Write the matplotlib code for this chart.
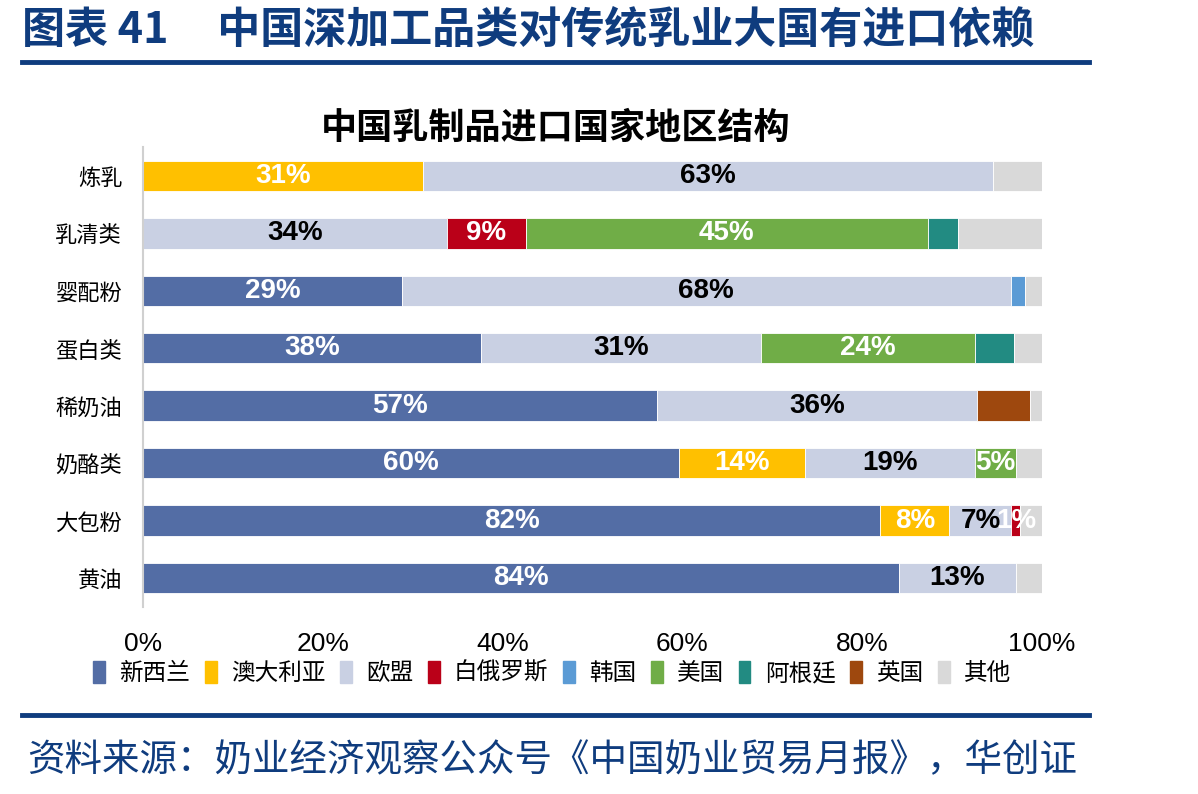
import numpy as np
import matplotlib
matplotlib.use("Agg")
from matplotlib import pyplot as plt
from matplotlib.lines import Line2D

plt.rcParams['font.family'] = ['Noto Sans CJK SC', 'DejaVu Sans']

categories = ['炼乳', '乳清类', '婴配粉', '蛋白类', '稀奶油', '奶酪类', '大包粉', '黄油']
countries = ['新西兰', '澳大利亚', '欧盟', '白俄罗斯', '韩国', '美国', '阿根廷', '英国', '其他']

nz = [0, 0, 28.8, 37.6, 57.2, 59.6, 82.0, 84.1]
au = [31.1, 0, 0, 0, 0, 14.0, 7.7, 0]
eu = [63.4, 33.8, 67.7, 31.1, 35.6, 18.9, 6.9, 13.0]
by = [0, 8.8, 0, 0, 0, 0, 1.0, 0]
kr = [0, 0, 1.6, 0, 0, 0, 0, 0]
us = [0, 44.7, 0, 23.8, 0, 4.6, 0, 0]
ar = [0, 3.4, 0, 4.4, 0, 0, 0, 0]
uk = [0, 0, 0, 0, 5.9, 0, 0, 0]
other = [5.5, 9.3, 1.9, 3.1, 1.3, 2.9, 2.4, 2.9]

series = [nz, au, eu, by, kr, us, ar, uk, other]
colors = ['#536DA5', '#FFC000', '#C9D0E3', '#BA0018', '#5B9BD5',
          '#70AD47', '#228B82', '#9E480E', '#D9D9D9']
# which series get value labels, and in which colour
label_color = {0: 'white', 1: 'white', 2: 'black', 3: 'white', 5: 'white'}

navy = '#0F3C7E'

fig = plt.figure(figsize=(11.98, 7.94), dpi=100)
ax = fig.add_axes([0.1194, 0.2359, 0.7504, 0.5786])

y = np.arange(len(categories))
left = np.zeros(len(categories))
for i, vals in enumerate(series):
    vals = np.array(vals, dtype=float)
    ax.barh(y, vals, left=left, height=0.53, color=colors[i],
            edgecolor='white', linewidth=0.6, label=countries[i])
    if i in label_color:
        for j, v in enumerate(vals):
            if v > 0:
                ax.text(left[j] + v / 2, y[j], f'{round(v):.0f}%',
                        ha='center', va='center', color=label_color[i],
                        fontsize=20, fontweight='bold',
                        family=['Liberation Sans', 'DejaVu Sans'])
    left += vals

ax.set_xlim(0, 100)
ax.set_ylim(len(categories) - 0.5, -0.5)
ax.set_yticks(y)
ax.set_yticklabels(categories, fontsize=16)
ax.set_xticks(np.arange(0, 101, 20))
ax.set_xticklabels([f'{t}%' for t in range(0, 101, 20)], fontsize=19,
                   family=['Liberation Sans', 'DejaVu Sans'])
ax.tick_params(axis='y', length=0, pad=15)
ax.tick_params(axis='x', length=0, pad=18)
for s in ['top', 'right', 'bottom']:
    ax.spines[s].set_visible(False)
ax.spines['left'].set_color('#D0D0D0')
ax.spines['left'].set_linewidth(1.5)

ax.set_title('中国乳制品进口国家地区结构', fontsize=26, fontweight='bold',
             x=0.459, pad=5)

handles = [plt.Rectangle((0, 0), 1, 1, color=c) for c in colors]
fig.legend(handles, countries, loc='center', bbox_to_anchor=(0.461, 0.152),
           ncol=9, frameon=False, fontsize=17, handlelength=0.5, handleheight=1.0,
           handletextpad=0.6, columnspacing=0.62)

fig.text(0.018, 0.962, '图表 41     中国深加工品类对传统乳业大国有进口依赖',
         fontsize=31, fontweight='bold', color=navy, va='center')
fig.add_artist(Line2D([0.018, 0.909], [0.922, 0.922], color=navy, linewidth=3.5))
fig.add_artist(Line2D([0.018, 0.909], [0.099, 0.099], color=navy, linewidth=3.5))
fig.text(0.023, 0.042, '资料来源：奶业经济观察公众号《中国奶业贸易月报》，华创证',
         fontsize=27, color=navy, va='center')

fig.savefig('out.png', dpi=100)
